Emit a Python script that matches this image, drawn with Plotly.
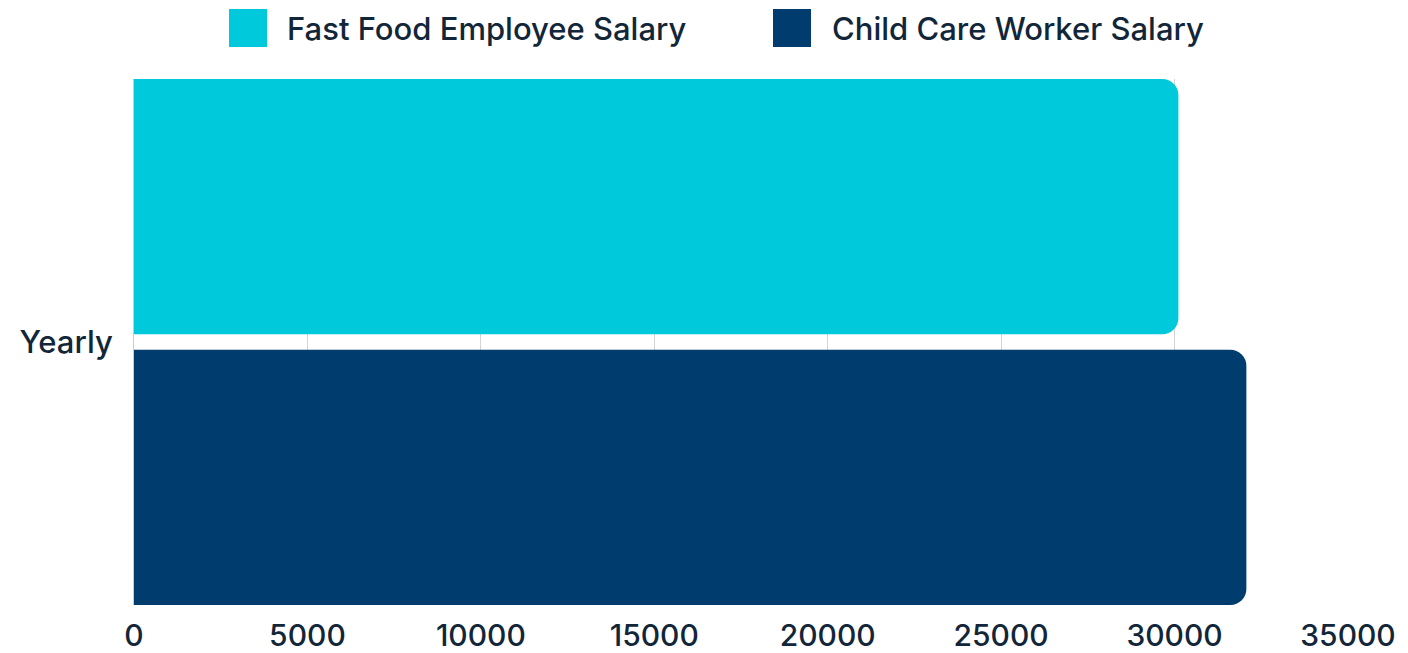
import plotly.graph_objects as go

categories = ["Yearly"]
series_names = ["Fast Food Employee Salary", "Child Care Worker Salary"]
fast_food = [30110]
child_care = [32070]
colors = ["#00C9DB", "#003D6E"]
x_ticks = [0, 5000, 10000, 15000, 20000, 25000, 30000, 35000]

FONT = "Inter"
TEXT = "#12263A"

fig = go.Figure()
for name, vals, col in zip(series_names, [fast_food, child_care], colors):
    fig.add_trace(go.Bar(
        y=categories, x=vals, name=name, orientation="h",
        marker=dict(color=col, line=dict(width=0)),
        showlegend=False,
    ))

g = 0.057
fig.update_layout(
    width=1408, height=653,
    margin=dict(l=134, r=60, t=79, b=48, autoexpand=False),
    paper_bgcolor="white", plot_bgcolor="white",
    barmode="group", bargap=0, bargroupgap=g,
    barcornerradius=16,
    font=dict(family=FONT, color=TEXT),
    xaxis=dict(
        range=[0, 35000], tickvals=x_ticks,
        ticktext=[str(v) for v in x_ticks],
        showgrid=True, gridcolor="#D3D3D3", gridwidth=1,
        zeroline=False, showline=False, automargin=False,
        tickfont=dict(size=30, family=FONT, color=TEXT, weight=500),
        ticks="", ticklabelstandoff=10,
    ),
    yaxis=dict(
        range=[0.5 - 0.25 * g, -0.5 + 0.25 * g],
        showgrid=False, zeroline=False, automargin=False,
        showline=True, linecolor="#C8CCD0", linewidth=1,
        tickfont=dict(size=31, family=FONT, color=TEXT, weight=500),
        ticks="", ticklabelstandoff=14,
    ),
)

# custom legend with large square swatches
legend_items = [(229, 285), (773, 830)]
for (sx, tx), name, col in zip(legend_items, series_names, colors):
    fig.add_shape(type="rect", xref="paper", yref="paper",
                  x0=(sx - 134) / 1214, x1=(sx + 38 - 134) / 1214,
                  y0=1 + (79 - 47) / 526, y1=1 + (79 - 9) / 526,
                  fillcolor=col, line=dict(width=0))
    fig.add_annotation(text=name, xref="paper", yref="paper",
                       x=(tx - 134) / 1214, y=1 + (79 - 28) / 526,
                       xanchor="left", yanchor="middle", showarrow=False,
                       font=dict(size=31, family=FONT, color=TEXT, weight=500))

fig.write_html(
    "out.html",
    config={"displayModeBar": False},
    post_script="document.body.style.margin='0';document.body.style.overflow='hidden';",
)
